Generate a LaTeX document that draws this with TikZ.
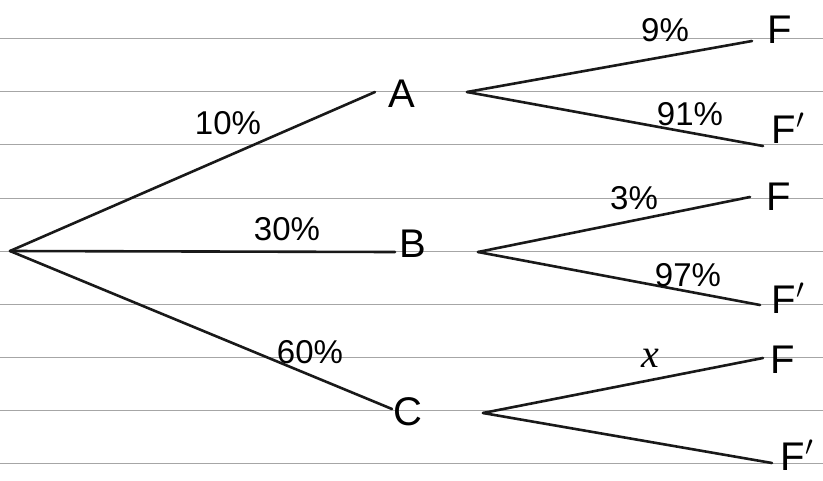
\RequirePackage{fix-cm}
\documentclass[tikz,border=0pt]{standalone}
\usepackage{fontspec}
\setmainfont{Liberation Sans}
\newfontfamily\varfont{Liberation Serif}
\begin{document}
\begin{tikzpicture}[x=1pt,y=-1pt,
  rule/.style={draw=black!35,line width=0.9pt},
  branch/.style={draw=black!90,line width=2.6pt,line cap=round},
  prob/.style={font=\fontsize{33}{33}\selectfont,inner sep=0pt},
  ev/.style={font=\fontsize{40}{40}\selectfont,inner sep=0pt}]
\useasboundingbox (0,0) rectangle (823,480);
\fill[white] (0,0) rectangle (823,480);
% ruled paper
\foreach \y in {38,91,144,198,251,304,357,410,463}
  \draw[rule] (0,\y) -- (823,\y);
% first level
\coordinate (root) at (10,251);
\coordinate (Ain) at (375,92);
\coordinate (Bin) at (395,252);
\coordinate (Cin) at (392,409);
\node[ev] (A) at (402,94) {A};
\node[ev] (B) at (413,244) {B};
\node[ev] (C) at (408,412) {C};
\draw[branch] (root) -- (Ain);
\draw[branch] (root) -- (Bin);
\draw[branch] (root) -- (Cin);
\node[prob] (p10) at (228,123) {10\%};
\node[prob] (p30) at (287,229) {30\%};
\node[prob] (p60) at (310,352) {60\%};
% second level starts
\coordinate (Aout) at (467,92);
\coordinate (Bout) at (478,252);
\coordinate (Cout) at (483,413);
% second level ends
\coordinate (AF) at (752,41);
\coordinate (AFc) at (763,146);
\coordinate (BF) at (750,197);
\coordinate (BFc) at (760,305);
\coordinate (CF) at (763,358);
\coordinate (CFc) at (772,463);
\draw[branch] (Aout) -- (AF);
\draw[branch] (Aout) -- (AFc);
\draw[branch] (Bout) -- (BF);
\draw[branch] (Bout) -- (BFc);
\draw[branch] (Cout) -- (CF);
\draw[branch] (Cout) -- (CFc);
% outcome labels
\node[ev] (F1) at (780,30) {F};
\node[ev] (F1c) at (788,128) {F$'$};
\node[ev] (F2) at (779,197) {F};
\node[ev] (F2c) at (788,298) {F$'$};
\node[ev] (F3) at (783,360) {F};
\node[ev] (F3c) at (797,455) {F$'$};
% conditional probabilities
\node[prob] (p9) at (665,30) {9\%};
\node[prob] (p91) at (690,114) {91\%};
\node[prob] (p3) at (634,198) {3\%};
\node[prob] (p97) at (688,275) {97\%};
\node[prob,font=\fontsize{40}{40}\selectfont\varfont\itshape] (px) at (650,358) {x};
\end{tikzpicture}
\end{document}
